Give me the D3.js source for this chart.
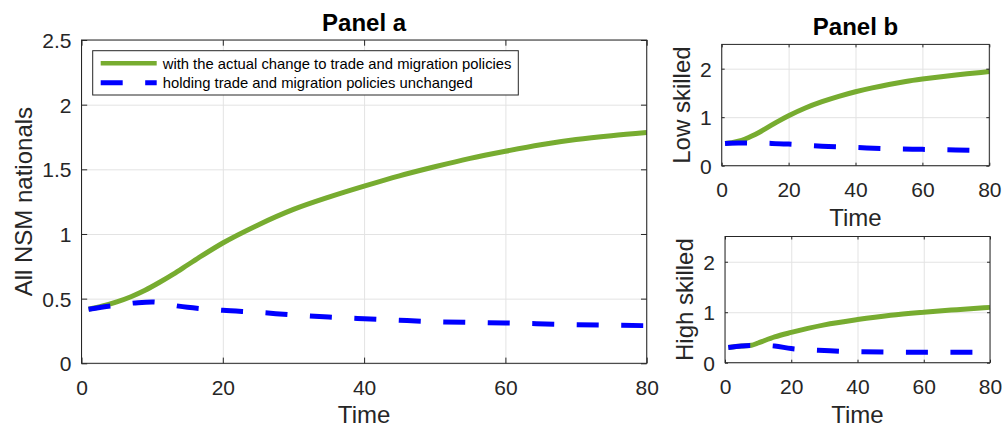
<!DOCTYPE html>
<html>
<head>
<meta charset="utf-8">
<script src="https://cdn.jsdelivr.net/npm/d3@7"></script>
<style>
    body { margin: 0; background: #fff; }
    svg { font-family: "Liberation Sans", Arial, Helvetica, sans-serif; }
</style>
</head>
<body>
<svg id="chart" width="1003" height="427"></svg>
<script>
// data begin ----------------------------------
const xTicks = [0, 20, 40, 60, 80];
const yTicksA = [0, 0.5, 1, 1.5, 2, 2.5];
const yTicksB = [0, 1, 2];

const legendLabels = [
    'with the actual change to trade and migration policies',
    'holding trade and migration policies unchanged'
];

// [time, value]
const allActual = [[1, 0.418], [3, 0.443], [5, 0.475], [7, 0.515], [9, 0.565], [11, 0.625], [13, 0.69], [15, 0.76],
    [17, 0.83], [20, 0.93], [25, 1.07], [30, 1.19], [35, 1.285], [40, 1.37], [45, 1.45], [50, 1.52],
    [55, 1.585], [60, 1.64], [65, 1.69], [70, 1.73], [75, 1.76], [80, 1.784]];
const allUnchanged = [[1, 0.418], [5, 0.45], [8, 0.469], [10, 0.474], [13, 0.448], [15, 0.433], [20, 0.41], [25, 0.394],
    [30, 0.374], [35, 0.358], [40, 0.345], [45, 0.333], [50, 0.322], [60, 0.312], [70, 0.299], [80, 0.291]];

const lowActual = [[1, 0.46], [3, 0.475], [5, 0.505], [7, 0.55], [9, 0.61], [11, 0.68], [13, 0.76], [15, 0.84],
    [17, 0.92], [20, 1.03], [25, 1.19], [30, 1.32], [35, 1.43], [40, 1.525], [45, 1.605], [50, 1.675], [55, 1.735],
    [60, 1.785], [65, 1.83], [70, 1.87], [75, 1.905], [80, 1.94]];
const lowUnchanged = [[1, 0.46], [5, 0.47], [8, 0.468], [15, 0.46], [20, 0.445], [30, 0.4], [40, 0.375], [50, 0.35],
    [60, 0.337], [70, 0.325], [80, 0.31]];

const highActual = [[1, 0.3], [5, 0.33], [8, 0.345], [10, 0.39], [12, 0.44], [15, 0.51], [20, 0.6], [25, 0.68],
    [30, 0.75], [40, 0.855], [50, 0.94], [60, 1.0], [70, 1.05], [80, 1.096]];
const highUnchanged = [[1, 0.3], [5, 0.33], [8, 0.34], [12, 0.34], [15, 0.33], [20, 0.28], [25, 0.255], [30, 0.24],
    [35, 0.225], [40, 0.218], [50, 0.21], [60, 0.208], [80, 0.207]];
// data end ----------------------------------

const green = '#77AC30';
const blue = '#0000FF';
const ink = '#262626';
const gridColor = '#e3e3e3';
const dash = '22,22.5';

const svg = d3.select('#chart');

function drawPanel(cfg) {
    const w = cfg.right - cfg.left;
    const h = cfg.bottom - cfg.top;
    const g = svg.append('g').attr('transform', 'translate(' + cfg.left + ',' + cfg.top + ')');

    const x = d3.scaleLinear().domain([0, 80]).range([0, w]);
    const y = d3.scaleLinear().domain([0, 2.5]).range([h, 0]);

    // grid
    g.append('g').attr('class', 'grid')
        .call(d3.axisBottom(x).tickValues(xTicks).tickSize(h).tickFormat(''))
        .call(s => s.select('.domain').remove())
        .selectAll('line').attr('stroke', gridColor);
    g.append('g').attr('class', 'grid')
        .call(d3.axisLeft(y).tickValues(cfg.yTicks).tickSize(-w).tickFormat(''))
        .call(s => s.select('.domain').remove())
        .selectAll('line').attr('stroke', gridColor);

    // lines
    const line = d3.line().x(d => x(d[0])).y(d => y(d[1])).curve(d3.curveMonotoneX);
    g.append('path').datum(cfg.actual).attr('d', line)
        .attr('fill', 'none').attr('stroke', green).attr('stroke-width', 5);
    g.append('path').datum(cfg.unchanged).attr('d', line)
        .attr('fill', 'none').attr('stroke', blue).attr('stroke-width', 5)
        .attr('stroke-dasharray', dash);

    // axes with ticks inside, on all four sides
    const tl = cfg.tickLen;
    const xb = g.append('g').attr('transform', 'translate(0,' + h + ')')
        .call(d3.axisBottom(x).tickValues(xTicks).tickSizeInner(-tl).tickSizeOuter(0));
    xb.selectAll('text').attr('y', 31.5).attr('dy', null).style('font-size', '21px').attr('fill', ink);
    const yl = g.append('g')
        .call(d3.axisLeft(y).tickValues(cfg.yTicks).tickSizeInner(-tl).tickSizeOuter(0).tickFormat(d => String(d)));
    yl.selectAll('text').attr('x', -10).attr('dy', '0.36em').style('font-size', '21px').attr('fill', ink);
    g.append('g').call(d3.axisTop(x).tickValues(xTicks).tickSizeInner(-tl).tickSizeOuter(0).tickFormat(''));
    g.append('g').attr('transform', 'translate(' + w + ',0)')
        .call(d3.axisRight(y).tickValues(cfg.yTicks).tickSizeInner(-tl).tickSizeOuter(0).tickFormat(''));
    g.selectAll('.domain').remove();
    g.selectAll('.tick line').filter(function() { return this.parentNode.parentNode.getAttribute('class') !== 'grid'; })
        .attr('stroke', ink);

    g.append('rect').attr('width', w).attr('height', h)
        .attr('fill', 'none').attr('stroke', ink).attr('stroke-width', 1);

    // labels
    g.append('text').attr('x', w / 2).attr('y', h + 60).attr('text-anchor', 'middle')
        .style('font-size', '24px').attr('fill', ink).text('Time');
    g.append('text').attr('transform', 'translate(' + (-cfg.yLabelGap) + ',' + (h / 2) + ') rotate(-90)')
        .attr('text-anchor', 'middle').style('font-size', '24px').attr('fill', ink).text(cfg.yLabel);
    if (cfg.title) {
        g.append('text').attr('x', w / 2).attr('y', -9.3).attr('text-anchor', 'middle')
            .style('font-size', '24px').style('font-weight', 'bold').attr('fill', '#000').text(cfg.title);
    }
    return { g: g, x: x, y: y };
}

drawPanel({ left: 81.5, right: 646.7, top: 40, bottom: 363.3, yTicks: yTicksA, tickLen: 5.7,
    actual: allActual, unchanged: allUnchanged, yLabel: 'All NSM nationals', yLabelGap: 49.5, title: 'Panel a' });
drawPanel({ left: 721.7, right: 989.3, top: 44.4, bottom: 165.7, yTicks: yTicksB, tickLen: 3,
    actual: lowActual, unchanged: lowUnchanged, yLabel: 'Low skilled', yLabelGap: 32, title: 'Panel b' });
drawPanel({ left: 725, right: 990, top: 236.5, bottom: 362.7, yTicks: yTicksB, tickLen: 3,
    actual: highActual, unchanged: highUnchanged, yLabel: 'High skilled', yLabelGap: 32 });

// legend
const legend = svg.append('g').attr('transform', 'translate(92.7,50.7)');
legend.append('rect').attr('width', 425.6).attr('height', 44.3)
    .attr('fill', '#fff').attr('stroke', ink).attr('stroke-width', 1);
const rows = [{ color: green, dashed: false }, { color: blue, dashed: true }];
rows.forEach((r, i) => {
    const cy = 12.6 + i * 19.4;
    legend.append('line').attr('x1', 8).attr('x2', 64).attr('y1', cy).attr('y2', cy)
        .attr('stroke', r.color).attr('stroke-width', r.dashed ? 5 : 4.5)
        .attr('stroke-dasharray', r.dashed ? dash : null);
    legend.append('text').attr('x', 70).attr('y', cy + 5.3)
        .style('font-size', '14.8px').attr('fill', '#000').text(legendLabels[i]);
});
</script>
</body>
</html>
